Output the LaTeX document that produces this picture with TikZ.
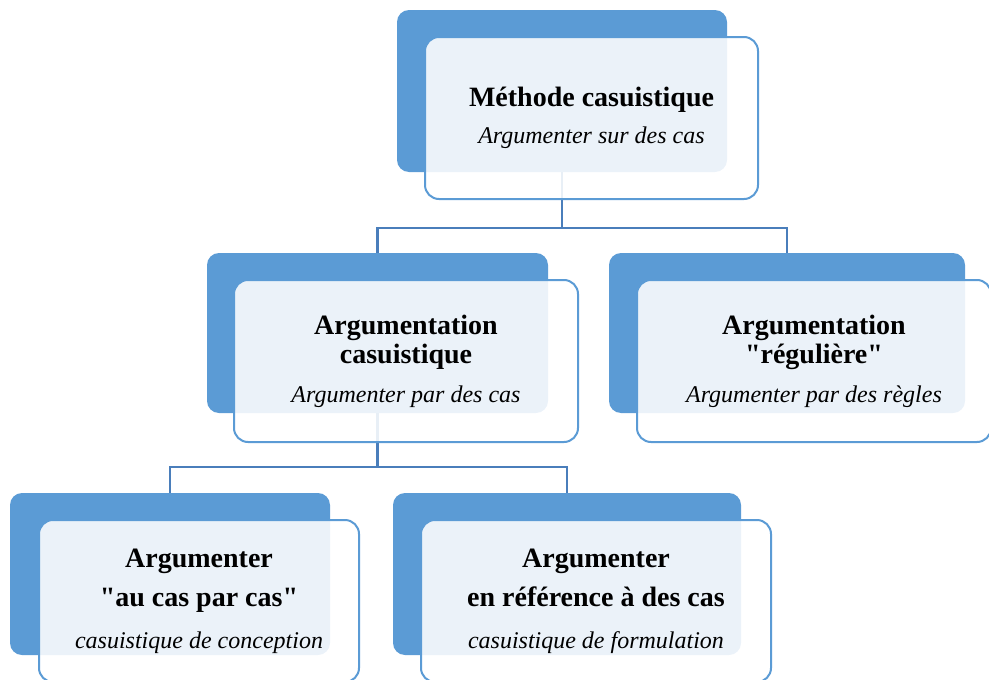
\documentclass[tikz,border=0pt]{standalone}
\usepackage{fontspec}
\setmainfont{Liberation Serif}
\usetikzlibrary{positioning}
\definecolor{boxblue}{HTML}{5B9BD5}
\definecolor{linkblue}{HTML}{4A7EBB}
\tikzset{
    backbox/.style={fill=boxblue, rounded corners=12pt, inner sep=0pt},
    frontbox/.style={draw=boxblue, line width=2pt, fill=white, fill opacity=.88, text opacity=1,
        rounded corners=14pt, inner sep=0pt, align=center, font=\fontsize{28}{29.5}\selectfont\bfseries},
    link/.style={draw=linkblue, line width=2.4pt},
}
\newcommand{\sub}[1]{{\fontsize{24}{26}\selectfont\mdseries\itshape #1}}
\newcommand{\q}{\textquotedbl}
\begin{document}
\begin{tikzpicture}[x=1pt, y=-1pt]
            \useasboundingbox (0, 0) rectangle (989, 680);

            % back boxes
            \node[backbox, minimum width=330pt, minimum height=162pt] at(562, 91)(topback){};
            \node[backbox, minimum width=341pt, minimum height=160pt] at(377.5, 333)(midLback){};
            \node[backbox, minimum width=356pt, minimum height=160pt] at(787, 333)(midRback){};
            \node[backbox, minimum width=320pt, minimum height=162pt] at(170, 574)(botLback){};
            \node[backbox, minimum width=348pt, minimum height=162pt] at(567, 574)(botRback){};

            % links
            \draw[link](topback.south) -- ++(0, 56) coordinate(topfork) -| (midLback.north);
            \draw[link](topfork) -| (midRback.north);
            \draw[link](midLback.south) -- ++(0, 54) coordinate(midfork) -| (botLback.north);
            \draw[link](midfork) -| (botRback.north);

            % front boxes
            \node[frontbox, minimum width=333pt, minimum height=162pt] at([shift={(29.5, 27)}]topback.center)(top)
                {M\'ethode casuistique\\[8pt]\sub{Argumenter sur des cas}};
            \node[frontbox, minimum width=344pt, minimum height=162pt] at([shift={(28.5, 28)}]midLback.center)(midL)
                {Argumentation\\casuistique\\[9pt]\sub{Argumenter par des cas}};
            \node[frontbox, minimum width=354pt, minimum height=162pt] at([shift={(27, 28)}]midRback.center)(midR)
                {Argumentation\\\q r\'eguli\`ere\q\\[9pt]\sub{Argumenter par des r\`egles}};
            \node[frontbox, minimum width=320pt, minimum height=162pt] at([shift={(29, 27)}]botLback.center)(botL)
                {Argumenter\\[10pt]\q au cas par cas\q\\[12pt]\sub{casuistique de conception}};
            \node[frontbox, minimum width=350pt, minimum height=162pt] at([shift={(29, 27)}]botRback.center)(botR)
                {Argumenter\\[10pt]en r\'ef\'erence \`a des cas\\[12pt]\sub{casuistique de formulation}};
\end{tikzpicture}
\end{document}
